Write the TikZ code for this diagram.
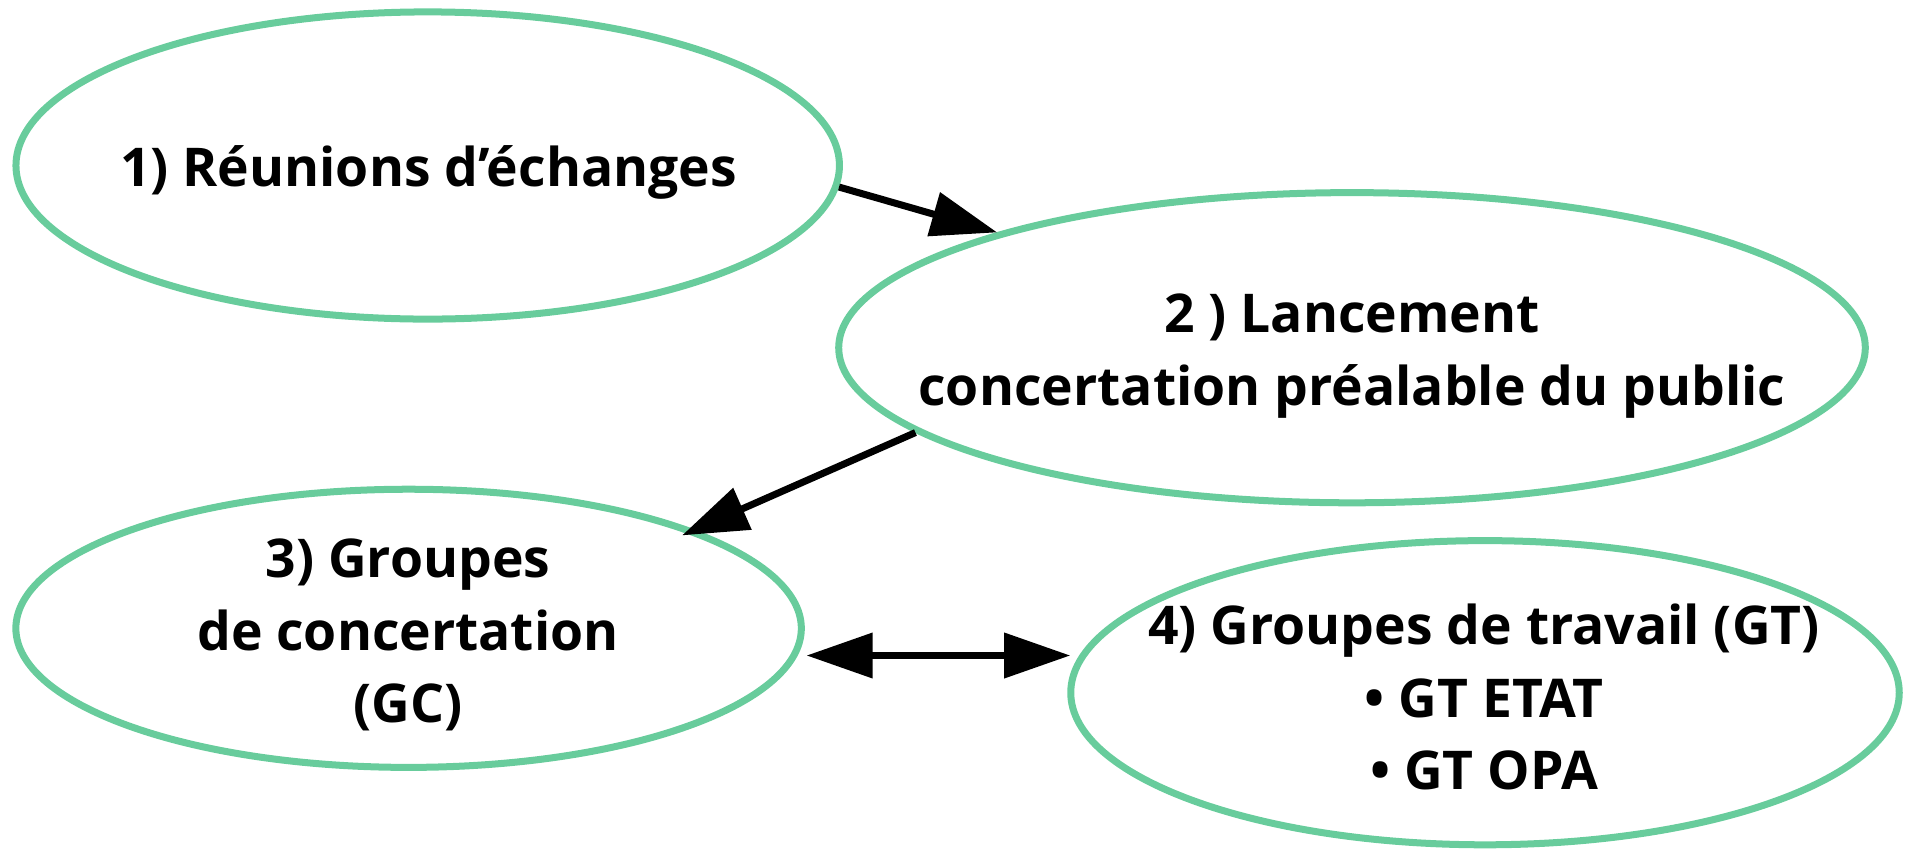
\documentclass[tikz,border=0pt]{standalone}
\usepackage{fontspec}
\setmainfont{Open Sans}
\usetikzlibrary{arrows.meta,shapes.geometric}
\definecolor{ovalgreen}{RGB}{104,204,156}
\tikzset{
  oval/.style={ellipse,draw=ovalgreen,line width=0.07cm,inner sep=0pt},
  lbl/.style={align=center,font=\fontsize{15.2}{20.6}\selectfont\bfseries,inner sep=0pt},
  arr/.style={line width=0.07cm,-{Triangle[length=0.66cm,width=0.44cm]}},
  dblarr/.style={line width=0.07cm,{Triangle[length=0.66cm,width=0.44cm]}-{Triangle[length=0.66cm,width=0.44cm]}}
}
\begin{document}
\begin{tikzpicture}[x=0.01cm,y=-0.01cm]
\useasboundingbox (0,0) rectangle (1909,848);
\node[oval,minimum width=8.23cm,minimum height=3.07cm] (E1) at (427.7,165.5) {};
\node[oval,minimum width=10.26cm,minimum height=3.10cm] (E2) at (1352,347.7) {};
\node[oval,minimum width=7.85cm,minimum height=2.78cm] (E3) at (408.6,628.3) {};
\node[oval,minimum width=8.28cm,minimum height=3.04cm] (E4) at (1485,692.7) {};
\node[lbl,anchor=base] (L1) at (428.5,186.7) {1) Réunions d’échanges};
\node[lbl] (L2) at (1352,356) {2 ) Lancement\\concertation préalable du public};
\node[lbl] (L3) at (408,635) {3) Groupes\\de concertation\\(GC)};
\node[lbl] (L4) at (1484,697) {4) Groupes de travail (GT)\\\textbullet{} GT ETAT\\\textbullet{} GT OPA};
\draw[arr] (E1.-3) -- (E2.162);
\draw[arr,shorten >=-0.14cm] (E2.191) -- (E3.19);
\draw[dblarr] ([xshift=0.09cm]E3.-4) -- ([xshift=0.03cm]E3.-4 -| E4.west);
\end{tikzpicture}
\end{document}
